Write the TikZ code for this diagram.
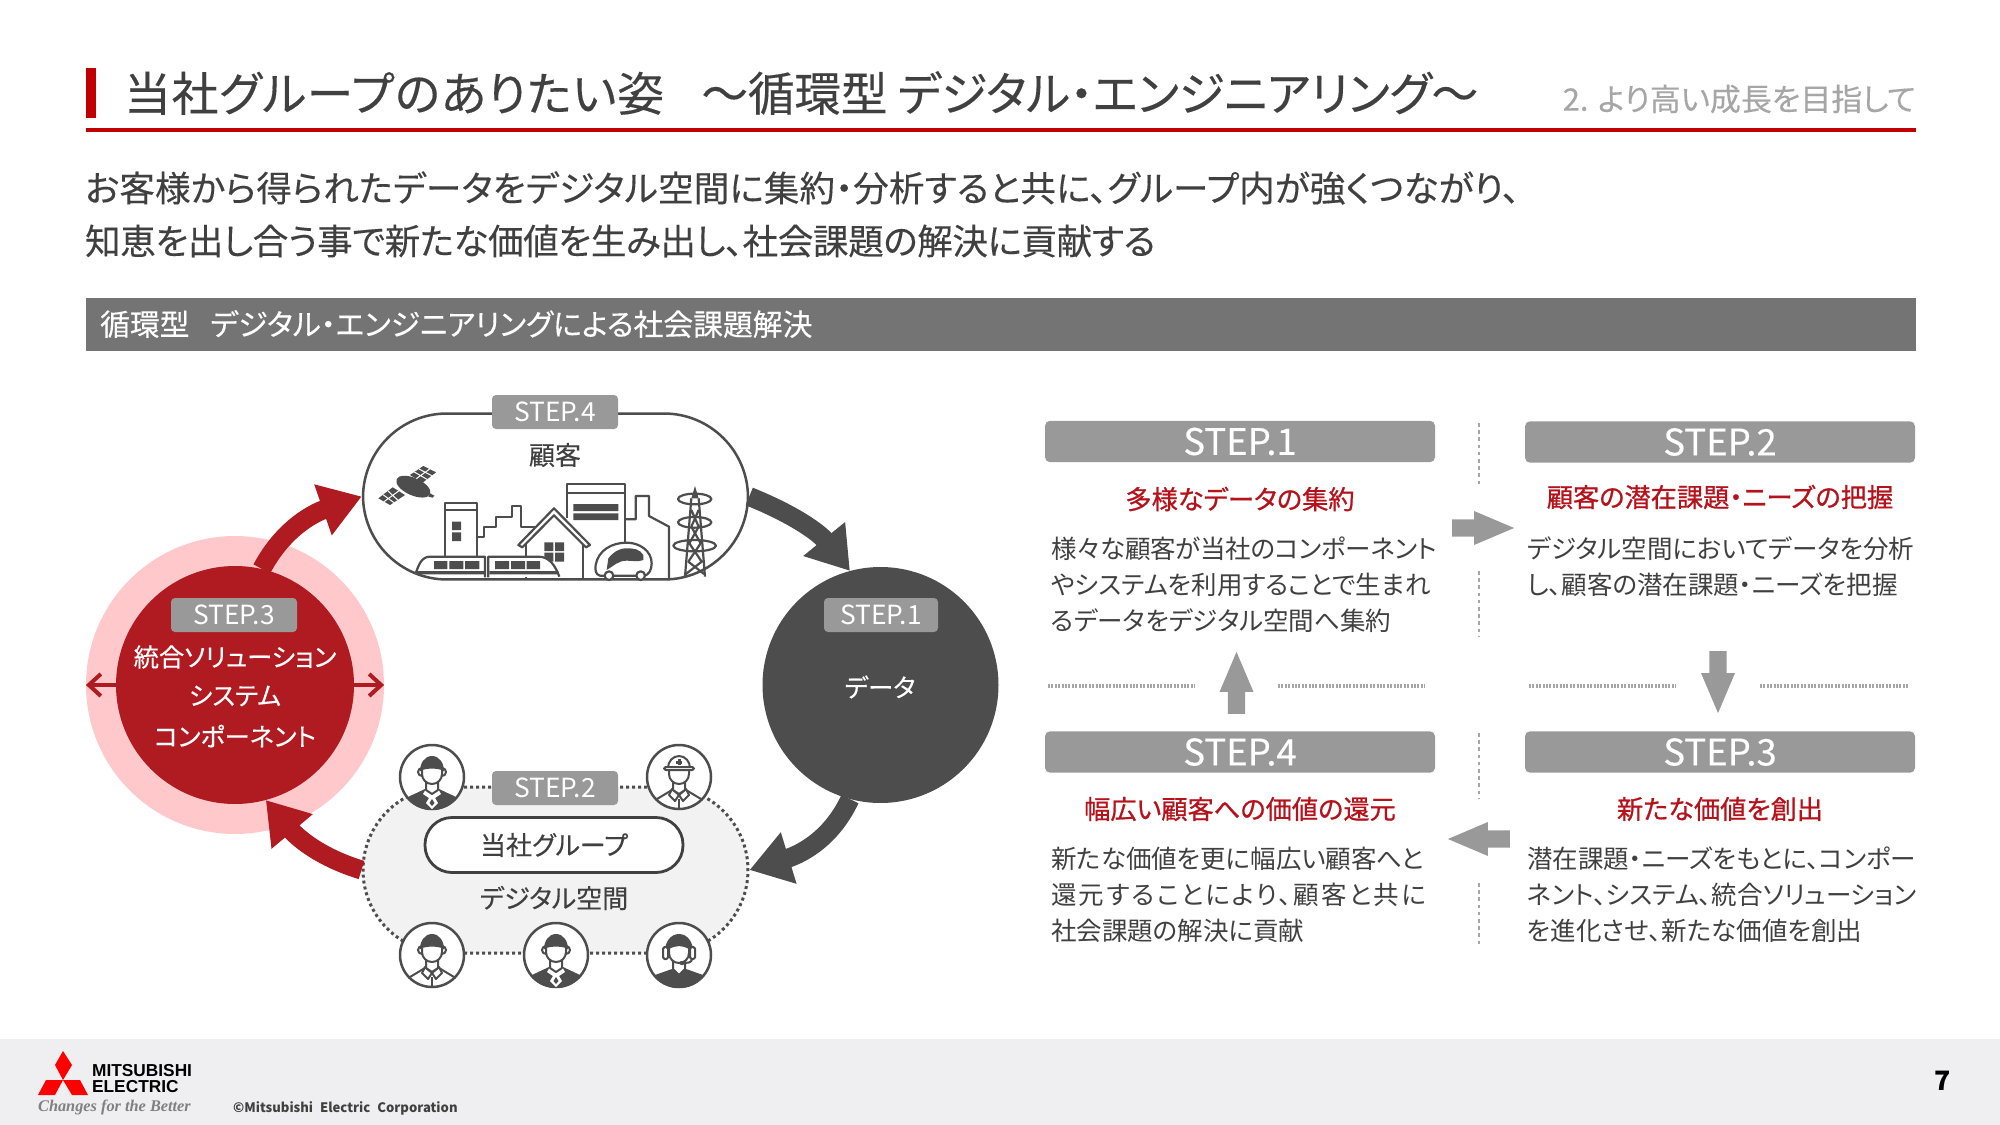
\documentclass[tikz,border=0pt]{standalone}
\usepackage{fontspec}
\setmainfont[RawFeature={+palt}]{Noto Sans CJK JP}
\newfontfamily\medfont[RawFeature={+palt},FakeBold=0.25]{Noto Sans CJK JP}
\newfontfamily\headfont[RawFeature={+palt},FakeBold=0.8]{Noto Sans CJK JP}
\newfontfamily\logofont{Liberation Sans}
\newfontfamily\tagfont{Liberation Serif}
\usetikzlibrary{shapes.arrows, arrows.meta, calc}
\definecolor{inkgray}{HTML}{404040}
\definecolor{darkgray}{HTML}{4D4D4D}
\definecolor{stepgray}{HTML}{999999}
\definecolor{bandgray}{HTML}{747474}
\definecolor{softgray}{HTML}{A6A6A6}
\definecolor{spacegray}{HTML}{F2F2F2}
\definecolor{footgray}{HTML}{EFEFF1}
\definecolor{corered}{HTML}{B01B21}
\definecolor{pinkring}{HTML}{FFC9CB}
\definecolor{headred}{HTML}{B5121B}
\definecolor{rulered}{HTML}{C00000}

\tikzset{
    iconstroke/.style={draw=darkgray, line width=0.1cm, line join=round},
    facepart/.pic={
        \fill[darkgray] (-12,-6) to[out=90,in=180] (0,-21) to[out=0,in=90] (12,-6) -- cycle;
        \draw[iconstroke, fill=white] (-6,0) -- (-6,13) -- (0,17) -- (6,13) -- (6,0);
        \draw[iconstroke] (-10,-9) to[out=180,in=90] (-14,-5) to[out=-90,in=180] (-10,-1);
        \draw[iconstroke] (10,-9) to[out=0,in=90] (14,-5) to[out=-90,in=0] (10,-1);
        \draw[iconstroke, fill=white] (-10,-8) -- (-10,-3) to[out=-90,in=180] (0,7) to[out=0,in=-90] (10,-3) -- (10,-8) to[out=165,in=15] cycle;
    },
    darksuit/.pic={
        \begin{scope}
        \clip (0,0) circle (33);
        \fill[darkgray] (-33,33) -- (-24,20) -- (-7,12) -- (7,12) -- (24,20) -- (33,33) -- cycle;
        \fill[white] (-6,12) -- (0,17) -- (6,12) -- (9,17) -- (3,21) -- (6,26) -- (0,32) -- (-6,26) -- (-3,21) -- (-9,17) -- cycle;
        \fill[darkgray] (0,22) -- (2.5,26) -- (0,29) -- (-2.5,26) -- cycle;
        \end{scope}
    },
    lightsuit/.pic={
        \begin{scope}
        \clip (0,0) circle (33);
        \draw[iconstroke] (-33,32) -- (-22,22) -- (-7,13) (33,32) -- (22,22) -- (7,13);
        \draw[iconstroke] (-7,12) -- (0,18) -- (7,12) -- (10,18) -- (4,24) -- (0,18) -- (-4,24) -- (-10,18) -- cycle;
        \draw[iconstroke] (0,22) -- (0,33);
        \end{scope}
    },
    helmetpart/.pic={
        \draw[iconstroke, fill=white] (-6,0) -- (-6,13) -- (0,17) -- (6,13) -- (6,0);
        \draw[iconstroke, fill=white] (-10,-7) -- (-10,-3) to[out=-90,in=180] (0,7) to[out=0,in=-90] (10,-3) -- (10,-7);
        \draw[iconstroke, fill=white] (-11,-9) to[out=90,in=180] (0,-21) to[out=0,in=90] (11,-9) -- cycle;
        \draw[iconstroke, fill=white, rounded corners=0.08cm] (-15,-10) rectangle (15,-7);
        \draw[darkgray, line width=0.15cm] (0,-18) -- (0,-12) (-3,-15) -- (3,-15);
    },
    headsetpart/.pic={
        \fill[darkgray] (-14,-4) to[out=90,in=180] (0,-21) to[out=0,in=90] (14,-4) -- cycle;
        \begin{scope}
        \clip (0,0) circle (33);
        \fill[darkgray] (-33,33) -- (-24,20) -- (-7,14) -- (7,14) -- (24,20) -- (33,33) -- cycle;
        \end{scope}
        \draw[iconstroke, fill=white] (-6,2) -- (-6,14) -- (0,20) -- (6,14) -- (6,2);
        \draw[iconstroke, fill=white] (-10,-7) -- (-10,-2) to[out=-90,in=180] (0,8) to[out=0,in=-90] (10,-2) -- (10,-7) to[out=150,in=30] cycle;
        \draw[iconstroke, fill=white, rounded corners=0.08cm] (-16,-8) rectangle (-11,4);
        \draw[iconstroke, fill=white, rounded corners=0.08cm] (11,-8) rectangle (16,4);
        \draw[iconstroke] (13,4) to[out=-90,in=0] (4,8);
        \fill[darkgray] (3,8) ellipse (3 and 2);
    }
}

\begin{document}
\begin{tikzpicture}[
    x=0.05cm, y=-0.05cm,
    titletext/.style={anchor=west, inner sep=0, text=inkgray, font=\medfont\fontsize{66.5}{76}\selectfont},
    leadtext/.style={anchor=west, inner sep=0, text=inkgray, font=\medfont\fontsize{50.5}{60}\selectfont},
    bandtext/.style={anchor=west, inner sep=0, text=white, font=\medfont\fontsize{42.4}{50}\selectfont},
    stepbox/.style={draw=none, fill=stepgray, rounded corners=0.25cm, minimum width=19.5cm, minimum height=2.07cm, inner sep=0, text=white, font=\medfont\fontsize{52}{60}\selectfont},
    badge/.style={fill=stepgray, rounded corners=0.2cm, minimum width=6.3cm, minimum height=1.7cm, inner sep=0, text=white, font=\fontsize{37.5}{44}\selectfont},
    heading/.style={inner sep=0, text=headred, font=\headfont\fontsize{37.3}{44}\selectfont},
    bodytext/.style={anchor=west, inner sep=0, text=inkgray, font=\fontsize{36.3}{44}\selectfont},
    ringtext/.style={inner sep=0, text=white, font=\medfont\fontsize{36}{44}\selectfont},
    spacetext/.style={inner sep=0, text=inkgray, font=\medfont\fontsize{37}{44}\selectfont},
    staffring/.style={circle, draw=darkgray, fill=white, line width=0.125cm, minimum size=3.2cm, inner sep=0},
    bigarrow/.style={line width=0.95cm, -{Triangle[length=2.05cm, width=2.55cm]}},
    blockarrow/.style={single arrow, fill=stepgray, minimum height=3.1cm, minimum width=1.7cm, single arrow head extend=0.42cm, single arrow tip angle=46, inner sep=0.42cm},
    splitv/.style={softgray, line width=0.1cm, dash pattern=on 0.18cm off 0.18cm},
    splith/.style={softgray, line width=0.17cm, dash pattern=on 0.1cm off 0.07cm}
]
\useasboundingbox (0, 0) rectangle (2000, 1125);

% Header
\fill[rulered] (86, 68) rectangle (96, 118);
\fill[rulered] (86, 128.5) rectangle (1916, 132);
\node[titletext] (title) at (124, 93) {{\addfontfeature{LetterSpace=1.8}当社グループのありたい姿}\hspace{0.8em}{\addfontfeature{LetterSpace=-0.6}～循環型 デジタル・エンジニアリング～}};
\node[anchor=east, inner sep=0, text=softgray, font=\medfont\fontsize{44}{50}\selectfont] (chapter) at (1916, 99) {2. より高い成長を目指して};
\node[leadtext] (leada) at (85, 188) {\addfontfeature{LetterSpace=0.6}お客様から得られたデータをデジタル空間に集約・分析すると共に、グループ内が強くつながり、};
\node[leadtext] (leadb) at (85, 241) {\addfontfeature{LetterSpace=-0.9}知恵を出し合う事で新たな価値を生み出し、社会課題の解決に貢献する};
\fill[bandgray] (86, 298) rectangle (1916, 351);
\node[bandtext] (band) at (100, 324) {循環型\hspace{0.7em}デジタル・エンジニアリングによる社会課題解決};

% Footer
\fill[footgray] (0, 1039) rectangle (2000, 1125);
\fill[red] (63, 1051) -- (72, 1065) -- (63, 1080) -- (55, 1065) -- cycle;
\fill[red] (63, 1080) -- (46, 1080) -- (38, 1095) -- (55, 1095) -- cycle;
\fill[red] (63, 1080) -- (80, 1080) -- (88, 1095) -- (72, 1095) -- cycle;
\node[anchor=west, inner sep=0, font=\logofont\bfseries\fontsize{24.6}{26}\selectfont] (brandup) at (92, 1071) {MITSUBISHI};
\node[anchor=west, inner sep=0, font=\logofont\bfseries\fontsize{24.6}{26}\selectfont] (brandlow) at (92, 1087) {ELECTRIC};
\node[anchor=west, inner sep=0, text=gray, font=\tagfont\bfseries\itshape\fontsize{23.2}{26}\selectfont] (slogan) at (38, 1107) {Changes for the Better};
\node[anchor=west, inner sep=0, text=inkgray, font=\bfseries\fontsize{18.6}{22}\selectfont] (credit) at (233, 1108) {©Mitsubishi\hspace{0.3em} Electric\hspace{0.3em} Corporation};
\node[inner sep=0, text=black, font=\bfseries\fontsize{38}{44}\selectfont] (pageno) at (1943, 1081) {7};

% Cycle nodes
\node[circle, fill=pinkring, minimum size=14.9cm, inner sep=0] (halo) at (235, 685) {};
\node[circle, fill=corered, minimum size=11.9cm, inner sep=0] (core) at (235, 685) {};
\node[circle, fill=darkgray, minimum size=11.8cm, inner sep=0] (data) at (880.5, 685) {};
\node[draw=darkgray, fill=white, line width=0.125cm, rounded corners=4.2cm, minimum width=19.25cm, minimum height=8.3cm, inner sep=0] (customer) at (555.5, 496.5) {};
\node[draw=darkgray, fill=spacegray, line width=0.15cm, dash pattern=on 0.15cm off 0.15cm, rounded corners=4.15cm, minimum width=19.25cm, minimum height=8.3cm, inner sep=0] (digital) at (555.5, 870) {};

% Cycle arrows
\draw[bigarrow, corered] (core.77) to[out=62, in=199] (customer.west);
\draw[bigarrow, darkgray] (customer.east) to[out=-22, in=129] (data.105);
\draw[bigarrow, darkgray] (data.-105) to[out=-115, in=17] (digital.east);
\draw[bigarrow, corered] (digital.west) to[out=163, in=-50] (core.-75);
\draw[corered, line width=0.2cm, {Straight Barb[length=0.6cm, width=1.1cm]}-] (halo.west) -- (core.west);
\draw[corered, line width=0.2cm, -{Straight Barb[length=0.6cm, width=1.1cm]}] (core.east) -- (halo.east);

% Cycle labels
\node[badge] (badgec) at (234, 615) {STEP.3};
\node[ringtext] (corea) at (235, 657) {統合ソリューション};
\node[ringtext] (coreb) at (235, 696) {システム};
\node[ringtext] (corec) at (235, 736) {コンポーネント};
\node[badge, minimum width=5.7cm] (badgea) at (881, 615) {STEP.1};
\node[ringtext] (datatext) at (880, 687) {データ};
\node[badge] (badged) at (555, 412) {STEP.4};
\node[spacetext] (customertext) at (555, 455) {顧客};

% Digital space
\node[badge] (badgeb) at (555, 788) {STEP.2};
\node[draw=inkgray, fill=white, line width=0.14cm, rounded corners=1.35cm, minimum width=12.9cm, minimum height=2.75cm, inner sep=0, spacetext] (group) at (554, 845) {当社グループ};
\node[spacetext] (spacetitle) at (554, 898) {デジタル空間};
\node[staffring] (staffa) at (432, 777) {};
\node[staffring] (staffb) at (679, 777) {};
\node[staffring] (staffc) at (432, 955) {};
\node[staffring] (staffd) at (556, 955) {};
\node[staffring] (staffe) at (679, 955) {};
\pic at (staffa) {darksuit};
\pic at (staffa) {facepart};
\pic at (staffb) {lightsuit};
\pic at (staffb) {helmetpart};
\pic at (staffc) {lightsuit};
\pic at (staffc) {facepart};
\pic at (staffd) {darksuit};
\pic at (staffd) {facepart};
\pic at (staffe) {headsetpart};

% City
\begin{scope}[shift={(350, 430)}, x=0.05cm/3, y=-0.05cm/3, line width=0.11cm, draw=darkgray, line join=round]
    % satellite
    \fill[darkgray, rotate around={-24:(190,170)}] (190,170) ellipse (55 and 26);
    \fill[darkgray] (240,190) -- (253,197) -- (248,203) -- (235,200) -- cycle;
    \fill[darkgray] (180,135) -- (220,108) -- (258,127) -- (218,158) -- cycle;
    \fill[darkgray] (85,205) -- (128,172) -- (165,195) -- (120,225) -- cycle;
    \draw[white, line width=0.05cm] (193,126) -- (231,148) (207,117) -- (245,137) (199,146) -- (239,117) (99,194) -- (132,218) (114,183) -- (143,210) (102,215) -- (146,183);
    % buildings
    \draw (285,380) -- (285,218) -- (382,218) -- (382,380) (285,240) -- (382,240);
    \fill[darkgray] (306,275) rectangle (333,300) (306,307) rectangle (333,333);
    \draw (382,322) -- (402,322) -- (402,292) -- (438,292) -- (438,262) -- (487,262) -- (487,228) -- (512,228) -- (512,290) -- (558,290);
    \draw (652,265) -- (652,162) -- (825,162) -- (825,340) (652,190) -- (825,190);
    \fill[darkgray] (670,222) rectangle (805,243) (670,250) rectangle (805,270);
    \draw (825,268) -- (857,268) -- (857,198) -- (897,198) -- (897,258) -- (957,290) -- (957,447);
    % house
    \draw[fill=white] (527,340) -- (527,447) -- (700,447) -- (700,340);
    \draw[fill=white] (505,345) -- (612,235) -- (720,345) -- (708,352) -- (612,256) -- (517,352) -- cycle;
    \fill[darkgray] (583,337) rectangle (610,363) (615,337) rectangle (642,363) (583,368) rectangle (610,395) (615,368) rectangle (642,395);
    % car
    \draw[fill=white] (750,437) to[out=170,in=-100] (737,405) to[out=80,in=180] (830,338) to[out=0,in=90] (905,400) to[out=-90,in=0] (880,437) -- cycle;
    \fill[darkgray] (775,385) to[out=50,in=180] (830,355) to[out=0,in=120] (880,375) -- (880,390) to[out=200,in=0] (830,392) to[out=180,in=30] (770,420) -- cycle;
    \draw[fill=white] (777,437) circle (13) (872,437) circle (13);
    % tower
    \fill[darkgray] (1035,168) -- (1046,205) -- (1024,205) -- cycle;
    \draw (1024,205) -- (1005,440) (1046,205) -- (1065,440) (1024,240) -- (1046,290) -- (1018,340) -- (1055,395) -- (1008,432);
    \draw (1046,240) -- (1024,290) -- (1052,340) -- (1015,395) -- (1062,432);
    \draw (1034,207) ellipse (50 and 16) (1034,277) ellipse (50 and 16) (1034,347) ellipse (64 and 17);
    % train
    \draw[fill=white] (197,430) to[out=70,in=180] (240,380) -- (405,380) -- (405,442);
    \draw[fill=white] (415,442) -- (415,380) -- (565,380) to[out=0,in=110] (628,440);
    \fill[darkgray] (252,393) rectangle (292,417) (298,393) rectangle (340,417) (345,393) rectangle (388,417);
    \fill[darkgray] (435,393) rectangle (477,417) (483,393) rectangle (525,417) (530,393) rectangle (570,417);
    \fill[darkgray] (200,423) rectangle (402,433) (418,423) rectangle (625,433);
\end{scope}

% Step cards
\node[stepbox] (boxa) at (1240, 441.5) {STEP.1};
\node[stepbox] (boxb) at (1720, 442) {STEP.2};
\node[stepbox] (boxc) at (1720, 752) {STEP.3};
\node[stepbox] (boxd) at (1240, 752) {STEP.4};
\node[heading] (heada) at (1240, 499) {多様なデータの集約};
\node[heading] (headb) at (1720, 497) {顧客の潜在課題・ニーズの把握};
\node[heading] (headc) at (1720, 809) {新たな価値を創出};
\node[heading] (headd) at (1240, 809) {幅広い顧客への価値の還元};

\node[bodytext] (bodyaa) at (1051, 549) {\addfontfeature{LetterSpace=-1}様々な顧客が当社のコンポーネント};
\node[bodytext] (bodyab) at (1051, 585) {やシステムを利用することで生まれ};
\node[bodytext] (bodyac) at (1051, 621) {るデータをデジタル空間へ集約};
\node[bodytext] (bodyba) at (1527, 549) {デジタル空間においてデータを分析};
\node[bodytext] (bodybb) at (1527, 585) {し、顧客の潜在課題・ニーズを把握};
\node[bodytext] (bodyca) at (1527, 859) {潜在課題・ニーズをもとに、コンポー};
\node[bodytext] (bodycb) at (1527, 895) {ネント、システム、統合ソリューション};
\node[bodytext] (bodycc) at (1527, 931) {を進化させ、新たな価値を創出};
\node[bodytext] (bodyda) at (1051, 859) {新たな価値を更に幅広い顧客へと};
\node[bodytext] (bodydb) at (1051, 895) {\addfontfeature{LetterSpace=8.5}還元することにより、顧客と共に};
\node[bodytext] (bodydc) at (1051, 931) {社会課題の解決に貢献};

% Dividers
\draw[splitv] (1478.5, 423) -- (1478.5, 487);
\draw[splitv] (1478.5, 571) -- (1478.5, 636);
\draw[splitv] (1478.5, 733) -- (1478.5, 799);
\draw[splitv] (1478.5, 883) -- (1478.5, 947);
\draw[splith] (1048, 686) -- (1195, 686);
\draw[splith] (1278, 686) -- (1425, 686);
\draw[splith] (1529, 686) -- (1676, 686);
\draw[splith] (1760, 686) -- (1908, 686);

% Flow arrows
\node[blockarrow] (flowab) at (1473, 528) {};
\node[blockarrow, shape border rotate=270] (flowbc) at (1718, 672) {};
\node[blockarrow, shape border rotate=180] (flowcd) at (1489, 839) {};
\node[blockarrow, shape border rotate=90] (flowda) at (1236.5, 693) {};

\end{tikzpicture}
\end{document}
